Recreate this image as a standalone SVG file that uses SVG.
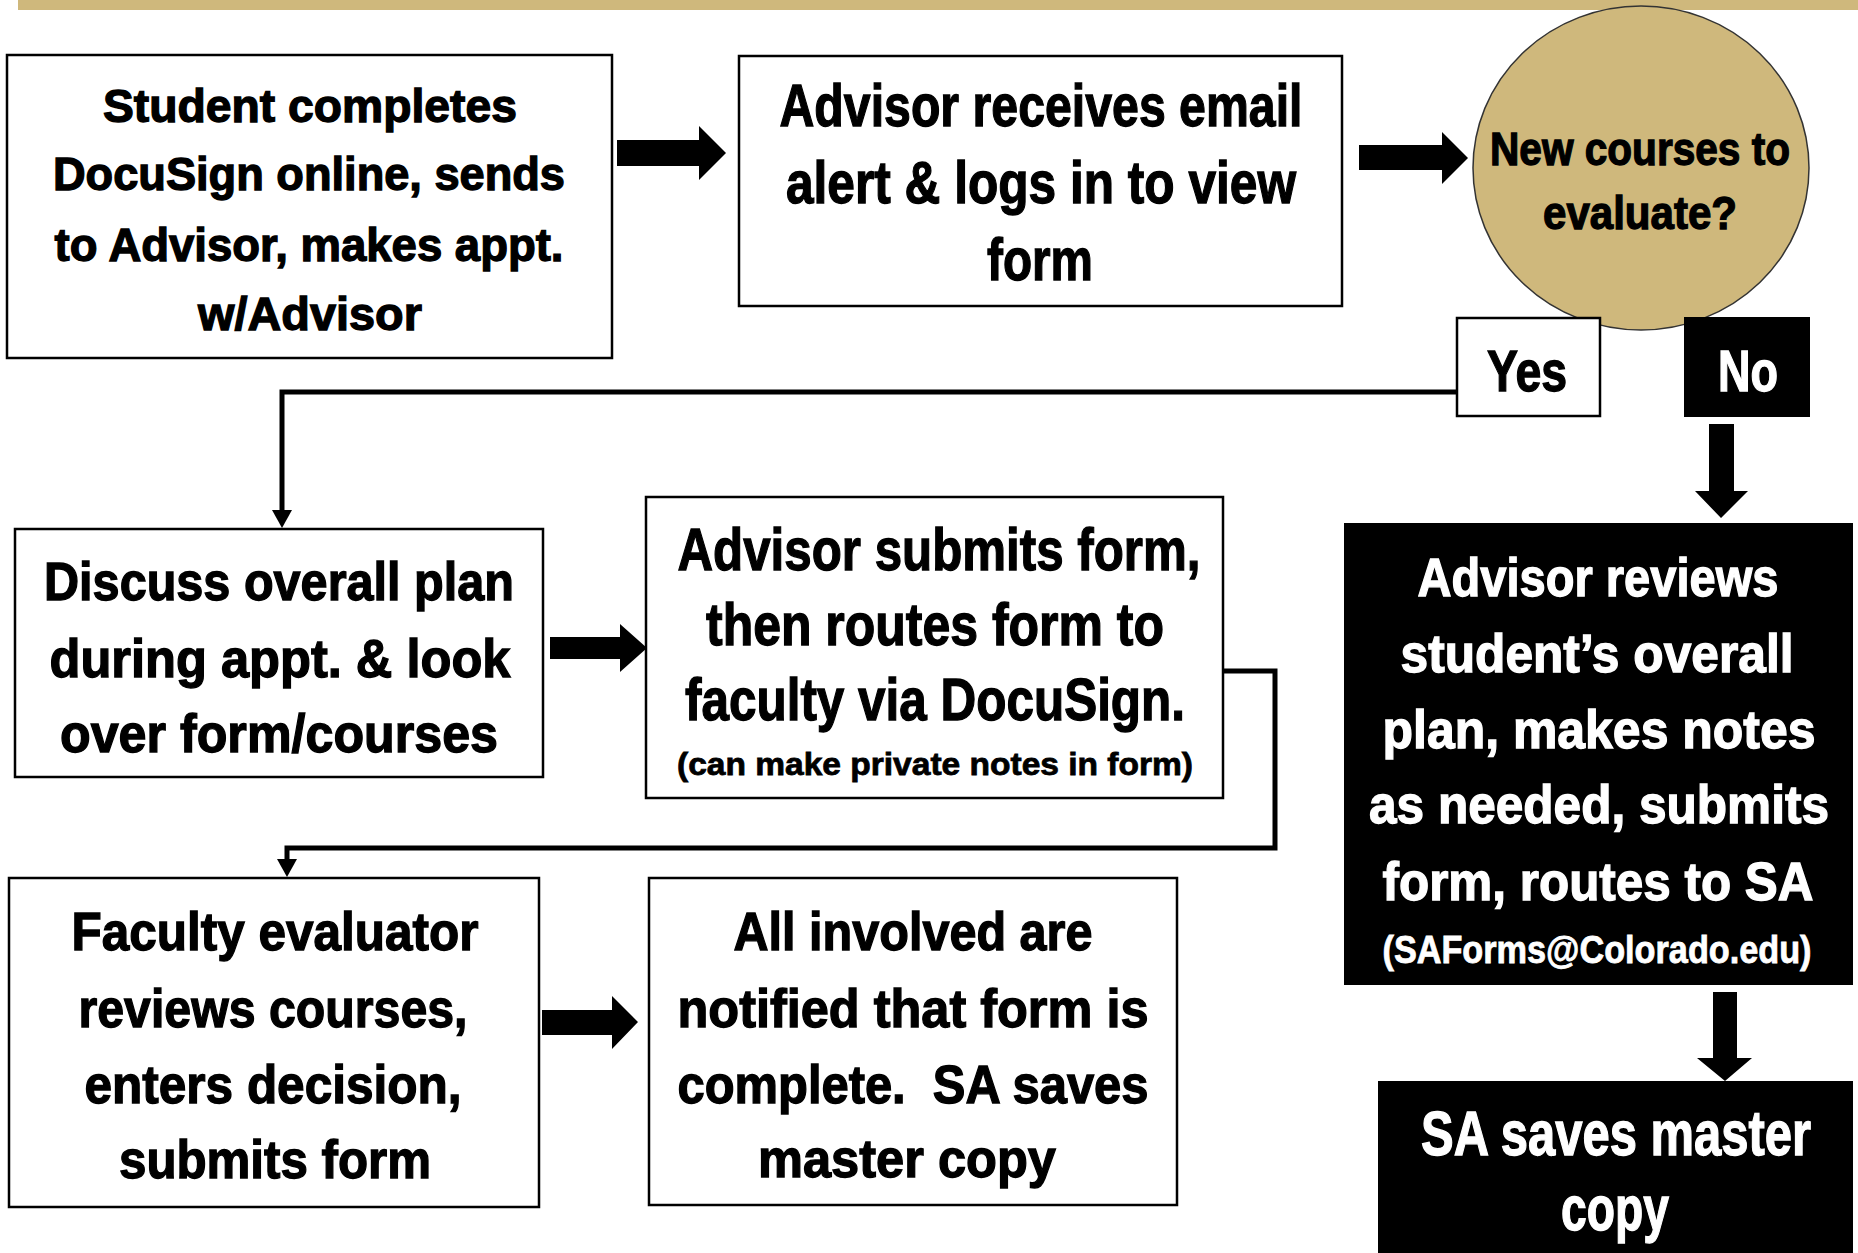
<svg xmlns="http://www.w3.org/2000/svg" width="1858" height="1253" viewBox="0 0 1858 1253">
<defs>
<style>
text{font-family:"Liberation Sans Narrow","Liberation Sans",Arial,sans-serif;font-weight:bold;text-anchor:middle;}
.box{fill:#fff;stroke:#000;stroke-width:2.5;}
.dark{fill:#000;stroke:none;}
.t{fill:#000;stroke:#000;stroke-width:1.3;}
.w{fill:#fff;stroke:#fff;stroke-width:1.3;}
.s{stroke-width:0.8;}
.line{fill:none;stroke:#000;stroke-width:5;}
.blk{fill:#000;}
</style>
</defs>
<rect width="1858" height="1253" fill="#fff"/>
<rect x="18" y="0" width="1840" height="10" fill="#CFB87C"/>

<g id="connectors">
<polygon class="blk" points="617,140 699,140 699,126 726,153 699,180 699,166 617,166"/>
<polygon class="blk" points="1359,145 1442,145 1442,132 1468,158 1442,184 1442,170 1359,170"/>
<polygon class="blk" points="550,637 620,637 620,624 647,648 620,672 620,659 550,659"/>
<polygon class="blk" points="542,1010 612,1010 612,996 638,1022 612,1049 612,1035 542,1035"/>
<polygon class="blk" points="1709,424 1734,424 1734,491 1748,491 1721,518 1695,491 1709,491"/>
<polygon class="blk" points="1713,992 1737,992 1737,1058 1752,1058 1725,1081 1697,1058 1713,1058"/>
<polyline class="line" points="1457,392 282,392 282,512"/>
<polygon class="blk" points="272,510 292,510 282,528"/>
<polyline class="line" points="1223,671 1275,671 1275,848 287,848 287,861"/>
<polygon class="blk" points="277,859 297,859 287,877"/>
</g>

<g id="n1">
<rect class="box" x="7" y="55" width="605" height="303"/>
<text class="t" font-size="46" x="310" y="122" textLength="414" lengthAdjust="spacingAndGlyphs">Student completes</text>
<text class="t" font-size="46" x="309" y="190" textLength="512" lengthAdjust="spacingAndGlyphs">DocuSign online, sends</text>
<text class="t" font-size="46" x="309" y="261" textLength="509" lengthAdjust="spacingAndGlyphs">to Advisor, makes appt.</text>
<text class="t" font-size="46" x="310" y="330" textLength="224" lengthAdjust="spacingAndGlyphs">w/Advisor</text>
</g>

<g id="n2">
<rect class="box" x="739" y="56" width="603" height="250"/>
<text class="t" font-size="60" x="1041" y="126" textLength="523" lengthAdjust="spacingAndGlyphs">Advisor receives email</text>
<text class="t" font-size="60" x="1041" y="203" textLength="510" lengthAdjust="spacingAndGlyphs">alert &amp; logs in to view</text>
<text class="t" font-size="60" x="1040" y="280" textLength="106" lengthAdjust="spacingAndGlyphs">form</text>
</g>

<g id="n3">
<ellipse cx="1641" cy="168" rx="168" ry="162" fill="#CFB87C" stroke="#333" stroke-width="1.5"/>
<text class="t" font-size="46" x="1640" y="165" textLength="300" lengthAdjust="spacingAndGlyphs">New courses to</text>
<text class="t" font-size="46" x="1640" y="229" textLength="194" lengthAdjust="spacingAndGlyphs">evaluate?</text>
</g>

<g id="yes">
<rect class="box" x="1457" y="318" width="143" height="98"/>
<text class="t" font-size="57" x="1527" y="391" textLength="80" lengthAdjust="spacingAndGlyphs">Yes</text>
</g>

<g id="no">
<rect class="dark" x="1684" y="317" width="126" height="100"/>
<text class="w" font-size="57" x="1748" y="391" textLength="60" lengthAdjust="spacingAndGlyphs">No</text>
</g>

<g id="n4">
<rect class="box" x="15" y="529" width="528" height="248"/>
<text class="t" font-size="53" x="279" y="600" textLength="470" lengthAdjust="spacingAndGlyphs">Discuss overall plan</text>
<text class="t" font-size="53" x="280" y="677" textLength="461" lengthAdjust="spacingAndGlyphs">during appt. &amp; look</text>
<text class="t" font-size="53" x="279" y="752" textLength="438" lengthAdjust="spacingAndGlyphs">over form/courses</text>
</g>

<g id="n5">
<rect class="box" x="646" y="497" width="577" height="301"/>
<text class="t" font-size="60" x="939" y="570" textLength="523" lengthAdjust="spacingAndGlyphs">Advisor submits form,</text>
<text class="t" font-size="60" x="935" y="645" textLength="458" lengthAdjust="spacingAndGlyphs">then routes form to</text>
<text class="t" font-size="60" x="935" y="720" textLength="500" lengthAdjust="spacingAndGlyphs">faculty via DocuSign.</text>
<text class="t s" font-size="32" x="935" y="775" textLength="516" lengthAdjust="spacingAndGlyphs">(can make private notes in form)</text>
</g>

<g id="n6">
<rect class="dark" x="1344" y="523" width="509" height="462"/>
<text class="w" font-size="54" x="1598" y="596" textLength="361" lengthAdjust="spacingAndGlyphs">Advisor reviews</text>
<text class="w" font-size="54" x="1597" y="672" textLength="393" lengthAdjust="spacingAndGlyphs">student’s overall</text>
<text class="w" font-size="54" x="1599" y="748" textLength="433" lengthAdjust="spacingAndGlyphs">plan, makes notes</text>
<text class="w" font-size="54" x="1599" y="823" textLength="460" lengthAdjust="spacingAndGlyphs">as needed, submits</text>
<text class="w" font-size="54" x="1598" y="900" textLength="431" lengthAdjust="spacingAndGlyphs">form, routes to SA</text>
<text class="w s" font-size="38" x="1597" y="963" textLength="429" lengthAdjust="spacingAndGlyphs">(SAForms@Colorado.edu)</text>
</g>

<g id="n7">
<rect class="box" x="9" y="878" width="530" height="329"/>
<text class="t" font-size="53" x="275" y="950" textLength="407" lengthAdjust="spacingAndGlyphs">Faculty evaluator</text>
<text class="t" font-size="53" x="273" y="1027" textLength="389" lengthAdjust="spacingAndGlyphs">reviews courses,</text>
<text class="t" font-size="53" x="273" y="1103" textLength="377" lengthAdjust="spacingAndGlyphs">enters decision,</text>
<text class="t" font-size="53" x="275" y="1178" textLength="312" lengthAdjust="spacingAndGlyphs">submits form</text>
</g>

<g id="n8">
<rect class="box" x="649" y="878" width="528" height="327"/>
<text class="t" font-size="53" x="913" y="950" textLength="359" lengthAdjust="spacingAndGlyphs">All involved are</text>
<text class="t" font-size="53" x="913" y="1027" textLength="471" lengthAdjust="spacingAndGlyphs">notified that form is</text>
<text class="t" font-size="53" x="913" y="1103" textLength="471" lengthAdjust="spacingAndGlyphs">complete.&#160; SA saves</text>
<text class="t" font-size="53" x="907" y="1177" textLength="298" lengthAdjust="spacingAndGlyphs">master copy</text>
</g>

<g id="n9">
<rect class="dark" x="1378" y="1081" width="475" height="180"/>
<text class="w" font-size="63" x="1616" y="1155" textLength="390" lengthAdjust="spacingAndGlyphs">SA saves master</text>
<text class="w" font-size="63" x="1615" y="1230" textLength="108" lengthAdjust="spacingAndGlyphs">copy</text>
</g>
</svg>
